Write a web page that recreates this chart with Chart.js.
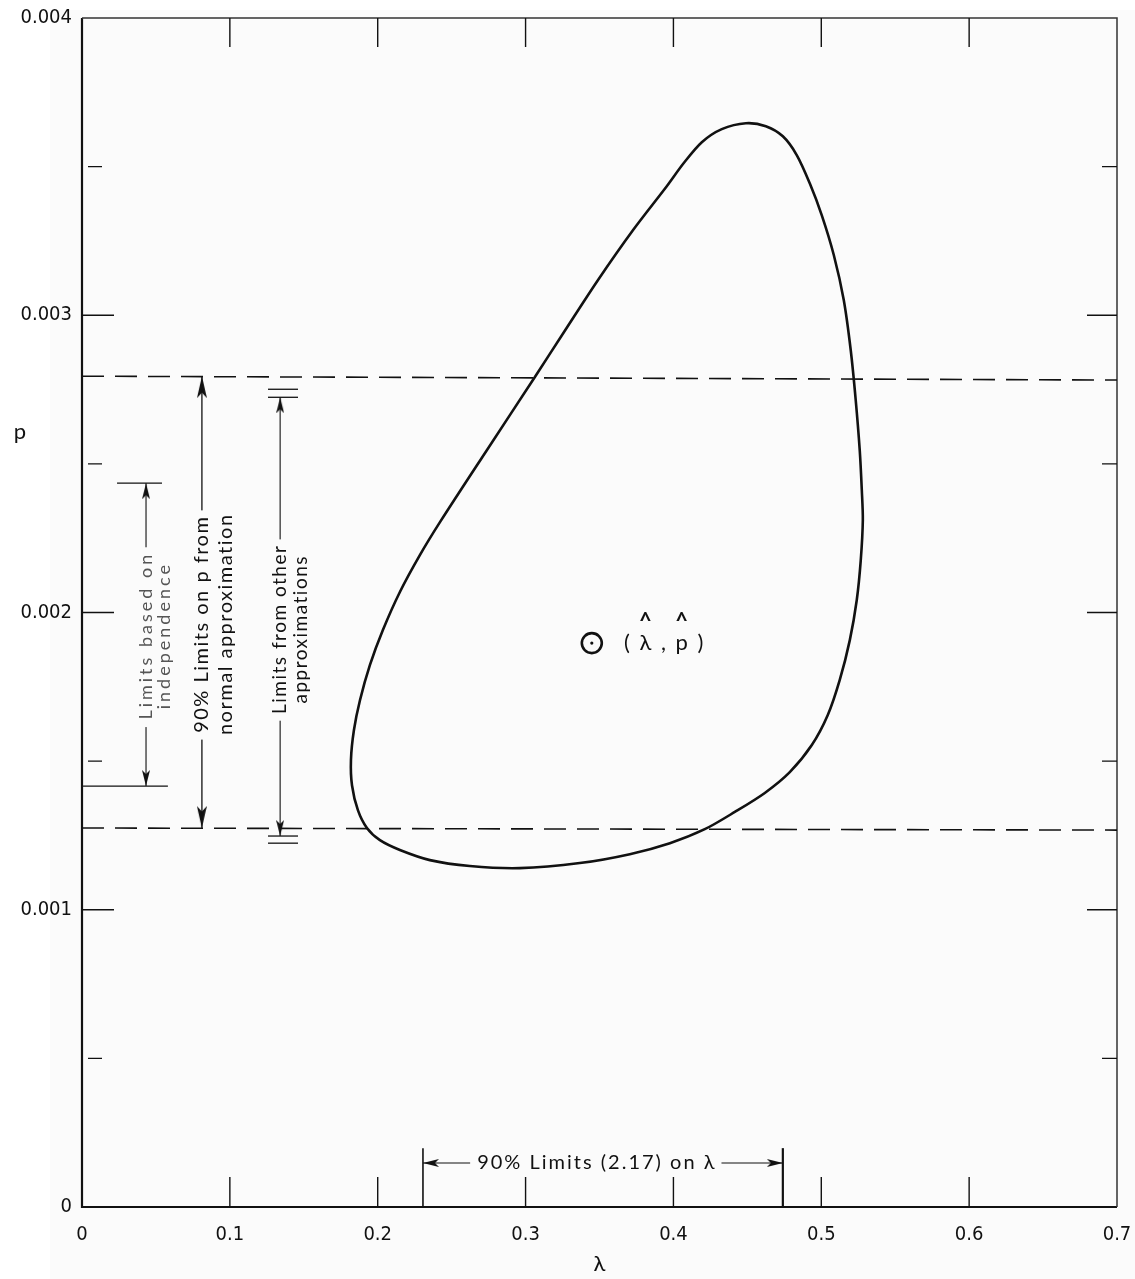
<!DOCTYPE html>
<html>
<head>
<meta charset="utf-8">
<script src="https://cdn.jsdelivr.net/npm/chart.js@4.4.1/dist/chart.umd.min.js"></script>
<style>
  html, body { margin: 0; padding: 0; background: #fff; }
  #wrap { width: 1135px; height: 1279px; position: relative; }
</style>
</head>
<body>
<div id="wrap"><canvas id="plot"></canvas></div>
<script>
// confidence region for (lambda, p), traced clockwise from the left flank
let regionLambda = [0.3063, 0.3259, 0.3489, 0.3726, 0.3955, 0.4070, 0.4192, 0.4327, 0.4490, 0.4625,
  0.4740, 0.4834, 0.4922, 0.5003, 0.5085, 0.5152, 0.5199, 0.5233, 0.5260, 0.5274,
  0.5281, 0.5267, 0.5240, 0.5193, 0.5125, 0.5044, 0.4936, 0.4787, 0.4618, 0.4415,
  0.4212, 0.3976, 0.3705, 0.3367, 0.2961, 0.2623, 0.2353, 0.2150, 0.2015, 0.1927,
  0.1866, 0.1826, 0.1819, 0.1839, 0.1880, 0.1947, 0.2035, 0.2150, 0.2285, 0.2421,
  0.2738, 0.3063];
let regionP = [0.002792, 0.002943, 0.003118, 0.003286, 0.003434, 0.003512, 0.003582, 0.003626, 0.003646, 0.003636,
  0.003602, 0.003539, 0.003444, 0.003337, 0.003202, 0.003051, 0.002883, 0.002714, 0.002546, 0.002412,
  0.002311, 0.002176, 0.002042, 0.001907, 0.001773, 0.001655, 0.001554, 0.001463, 0.001393, 0.001329,
  0.001271, 0.001224, 0.001187, 0.001157, 0.001140, 0.001147, 0.001167, 0.001201, 0.001234, 0.001275,
  0.001335, 0.001419, 0.001504, 0.001604, 0.001705, 0.001823, 0.001941, 0.002069, 0.002193, 0.002304,
  0.002546, 0.002792];

// point estimate
let estLambda = 0.3448;
let estP = 0.001897;

// dashed 90% limits on p (normal approximation), drawn across the whole width
let dashLambda = [0, 0.7];
let upperDashP = [0.002795, 0.002782];
let lowerDashP = [0.001275, 0.001268];

// limits based on independence
let indepLambda = 0.0433;
let indepP = [0.002435, 0.001416];
let indepTopBar = [0.0237, 0.0541];
let indepBottomBar = [0.0007, 0.0581];

// 90% normal approximation arrow
let normalLambda = 0.0811;
let normalP = [0.002795, 0.001275];

// limits from other approximations (double bars)
let otherLambda = 0.134;
let otherBar = [0.1258, 0.1461];
let otherTopP = [0.002751, 0.002724];
let otherBottomP = [0.001248, 0.001224];

// 90% limits on lambda
let lambdaLimits = [0.2306, 0.474];
let lambdaArrowP = 0.000148;
let lambdaBarTopP = 0.000198;

// axes
let xTickLabels = ['0', '0.1', '0.2', '0.3', '0.4', '0.5', '0.6', '0.7'];
let yTickLabels = ['0', '0.001', '0.002', '0.003', '0.004'];
let xInnerTicks = [0.1, 0.2, 0.3, 0.4, 0.5, 0.6];
let yMajorTicks = [0.001, 0.002, 0.003];
let yMinorTicks = [0.0005, 0.0015, 0.0025, 0.0035];

const ink = '#111';
const paper = '#fbfbfb';
const tickFont = "'DejaVu Sans Condensed', 'Liberation Sans', sans-serif";
const noteFont = "Lato, 'Noto Sans', sans-serif";

// arrow head image, tip at the centre so it lands on the data point
function arrowHead(w, h) {
  let c = document.createElement('canvas');
  c.width = w;
  c.height = h * 2;
  let g = c.getContext('2d');
  g.fillStyle = ink;
  g.beginPath();
  g.moveTo(w / 2, h);
  g.lineTo(w, h * 2);
  g.lineTo(w / 2, h * 1.75);
  g.lineTo(0, h * 2);
  g.closePath();
  g.fill();
  return c;
}
let smallHead = arrowHead(8, 16);
let bigHead = arrowHead(10, 22);

function seg(x1, y1, x2, y2, width, dash) {
  return {
    type: 'scatter',
    data: [{x: x1, y: y1}, {x: x2, y: y2}],
    showLine: true,
    borderColor: ink,
    borderWidth: width || 1.2,
    borderDash: dash || [],
    pointRadius: 0,
    clip: false
  };
}

function heads(points, img, rotations) {
  return {
    type: 'scatter',
    data: points,
    pointStyle: img,
    pointRotation: rotations,
    pointRadius: 8,
    clip: false
  };
}

let datasets = [];

datasets.push({
  type: 'scatter',
  data: regionLambda.map((x, i) => ({x: x, y: regionP[i]})),
  showLine: true,
  borderColor: ink,
  borderWidth: 2.6,
  tension: 0.3,
  pointRadius: 0
});

datasets.push(seg(dashLambda[0], upperDashP[0], dashLambda[1], upperDashP[1], 1.6, [22, 11]));
datasets.push(seg(dashLambda[0], lowerDashP[0], dashLambda[1], lowerDashP[1], 1.6, [22, 11]));

// independence bracket
datasets.push(seg(indepTopBar[0], indepP[0], indepTopBar[1], indepP[0], 1.3));
datasets.push(seg(indepBottomBar[0], indepP[1], indepBottomBar[1], indepP[1], 1.3));
datasets.push(seg(indepLambda, indepP[0], indepLambda, indepP[1], 1.1));
datasets.push(heads([{x: indepLambda, y: indepP[0]}, {x: indepLambda, y: indepP[1]}], smallHead, [0, 180]));

// normal approximation arrow
datasets.push(seg(normalLambda, normalP[0], normalLambda, normalP[1], 1.3));
datasets.push(heads([{x: normalLambda, y: normalP[0]}, {x: normalLambda, y: normalP[1]}], bigHead, [0, 180]));

// other approximations
otherTopP.concat(otherBottomP).forEach(p => datasets.push(seg(otherBar[0], p, otherBar[1], p, 1.3)));
datasets.push(seg(otherLambda, otherTopP[1], otherLambda, otherBottomP[0], 1.1));
datasets.push(heads([{x: otherLambda, y: otherTopP[1]}, {x: otherLambda, y: otherBottomP[0]}], smallHead, [0, 180]));

// limits on lambda
datasets.push(seg(lambdaLimits[0], 0, lambdaLimits[0], lambdaBarTopP, 1.6));
datasets.push(seg(lambdaLimits[1], 0, lambdaLimits[1], lambdaBarTopP, 2.2));
datasets.push(seg(lambdaLimits[0], lambdaArrowP, lambdaLimits[1], lambdaArrowP, 1.2));
datasets.push(heads([{x: lambdaLimits[0], y: lambdaArrowP}, {x: lambdaLimits[1], y: lambdaArrowP}], smallHead, [270, 90]));

// estimate marker
datasets.push({
  type: 'scatter',
  data: [{x: estLambda, y: estP}],
  pointStyle: 'circle',
  pointRadius: 10,
  pointBorderWidth: 2.6,
  pointBorderColor: ink,
  pointBackgroundColor: 'rgba(0,0,0,0)'
});
datasets.push({
  type: 'scatter',
  data: [{x: estLambda, y: estP}],
  pointRadius: 1.6,
  pointBorderWidth: 0,
  pointBackgroundColor: ink
});

let notes = [
  {lines: ['Limits based on', 'independence'], x: indepLambda, y: 0.001917, size: 18, spacing: 3, color: '#555', gap: 18},
  {lines: ['90% Limits on p from', 'normal approximation'], x: normalLambda, y: 0.001958, size: 20, spacing: 1.5, color: ink, gap: 24},
  {lines: ['Limits from other', 'approximations'], x: otherLambda, y: 0.001941, size: 19, spacing: 1.5, color: ink, gap: 21}
];
let lambdaNote = {text: '90% Limits (2.17) on λ', x: 0.3475, y: lambdaArrowP, size: 20, spacing: 2};
let estNote = {text: '( λ , p )', x: 0.3665, y: 0.001897, size: 22, spacing: 2};

const decor = {
  id: 'decor',
  beforeDraw(chart) {
    let ctx = chart.ctx;
    ctx.save();
    ctx.fillStyle = paper;
    ctx.fillRect(50, 10, chart.width - 50, chart.height - 10);
    ctx.restore();
  },
  beforeDatasetsDraw(chart) {
    let ctx = chart.ctx, a = chart.chartArea;
    let xs = chart.scales.x, ys = chart.scales.y;
    ctx.save();
    ctx.strokeStyle = ink;
    ctx.lineWidth = 2.2;
    ctx.beginPath();
    ctx.moveTo(a.left, a.top);
    ctx.lineTo(a.left, a.bottom);
    ctx.lineTo(a.right, a.bottom);
    ctx.stroke();
    ctx.strokeStyle = '#333';
    ctx.lineWidth = 1.5;
    ctx.beginPath();
    ctx.moveTo(a.left, a.top);
    ctx.lineTo(a.right, a.top);
    ctx.lineTo(a.right, a.bottom);
    ctx.stroke();
    ctx.lineWidth = 1.4;
    ctx.strokeStyle = ink;
    ctx.beginPath();
    xInnerTicks.forEach(v => {
      let px = xs.getPixelForValue(v);
      ctx.moveTo(px, a.bottom);
      ctx.lineTo(px, a.bottom - 30);
      ctx.moveTo(px, a.top);
      ctx.lineTo(px, a.top + 29);
    });
    yMajorTicks.forEach(v => {
      let py = ys.getPixelForValue(v);
      ctx.moveTo(a.left, py);
      ctx.lineTo(a.left + 32, py);
      ctx.moveTo(a.right - 30, py);
      ctx.lineTo(a.right, py);
    });
    yMinorTicks.forEach(v => {
      let py = ys.getPixelForValue(v);
      ctx.moveTo(a.left + 6, py);
      ctx.lineTo(a.left + 20, py);
      ctx.moveTo(a.right - 15, py);
      ctx.lineTo(a.right, py);
    });
    ctx.stroke();
    ctx.restore();
  },
  afterDatasetsDraw(chart) {
    let ctx = chart.ctx;
    let xs = chart.scales.x, ys = chart.scales.y;
    ctx.save();
    ctx.textAlign = 'center';
    ctx.textBaseline = 'middle';

    notes.forEach(n => {
      ctx.save();
      ctx.translate(xs.getPixelForValue(n.x), ys.getPixelForValue(n.y));
      ctx.rotate(-Math.PI / 2);
      ctx.font = n.size + 'px ' + noteFont;
      ctx.letterSpacing = n.spacing + 'px';
      n.lines.forEach((t, i) => {
        let w = ctx.measureText(t).width;
        if (i === 0) {
          ctx.fillStyle = paper;
          ctx.fillRect(-w / 2 - 6, -n.size * 0.55, w + 12, n.size * 1.1);
        }
        ctx.fillStyle = n.color;
        ctx.fillText(t, n.spacing / 2, i * n.gap);
      });
      ctx.restore();
    });

    // lambda limits label, sits on its arrow
    ctx.font = lambdaNote.size + 'px ' + noteFont;
    ctx.letterSpacing = lambdaNote.spacing + 'px';
    let lx = xs.getPixelForValue(lambdaNote.x), ly = ys.getPixelForValue(lambdaNote.y);
    let lw = ctx.measureText(lambdaNote.text).width;
    ctx.fillStyle = paper;
    ctx.fillRect(lx - lw / 2 - 6, ly - 11, lw + 12, 22);
    ctx.fillStyle = ink;
    ctx.fillText(lambdaNote.text, lx + lambdaNote.spacing / 2, ly);

    // estimate label with hats
    ctx.font = estNote.size + 'px ' + noteFont;
    ctx.letterSpacing = estNote.spacing + 'px';
    ctx.textAlign = 'left';
    ctx.textBaseline = 'alphabetic';
    let ex = xs.getPixelForValue(estNote.x), ey = ys.getPixelForValue(estNote.y) + 7;
    ctx.fillText(estNote.text, ex, ey);
    ['λ', 'p'].forEach(ch => {
      let k = estNote.text.indexOf(ch);
      let before = ctx.measureText(estNote.text.slice(0, k)).width;
      let cw = ctx.measureText(ch).width - estNote.spacing;
      ctx.save();
      ctx.letterSpacing = '0px';
      ctx.font = 'bold 22px ' + noteFont;
      ctx.textAlign = 'center';
      ctx.fillText('^', ex + before + cw / 2, ey - 21);
      ctx.restore();
    });

    // axis name for p, placed high on the left
    ctx.letterSpacing = '0px';
    ctx.font = '22px ' + noteFont;
    ctx.textAlign = 'center';
    ctx.textBaseline = 'middle';
    ctx.fillText('p', 20, ys.getPixelForValue(0.002607));
    ctx.restore();
  }
};

new Chart(document.querySelector('#plot'), {
  data: {datasets: datasets},
  options: {
    responsive: true,
    maintainAspectRatio: false,
    animation: false,
    events: [],
    layout: {padding: {top: 18, right: 18, left: 0, bottom: 0}},
    plugins: {legend: {display: false}, tooltip: {enabled: false}},
    scales: {
      x: {
        type: 'linear',
        min: 0,
        max: 0.7,
        grid: {display: false, drawTicks: false},
        border: {display: false},
        ticks: {
          stepSize: 0.1,
          padding: 16,
          color: ink,
          font: {family: tickFont, size: 20},
          callback: (v, i) => xTickLabels[i]
        },
        title: {display: true, text: 'λ', color: ink, font: {family: noteFont, size: 22}, padding: {top: 4, bottom: 2}},
        afterFit: s => { s.height = 72; s.paddingLeft = 0; s.paddingRight = 0; }
      },
      y: {
        type: 'linear',
        min: 0,
        max: 0.004,
        grid: {display: false, drawTicks: false},
        border: {display: false},
        ticks: {
          stepSize: 0.001,
          padding: 10,
          color: ink,
          font: {family: tickFont, size: 20},
          callback: (v, i) => yTickLabels[i]
        },
        afterFit: s => { s.width = 82; s.paddingTop = 0; s.paddingBottom = 0; }
      }
    }
  },
  plugins: [decor]
});
</script>
</body>
</html>
